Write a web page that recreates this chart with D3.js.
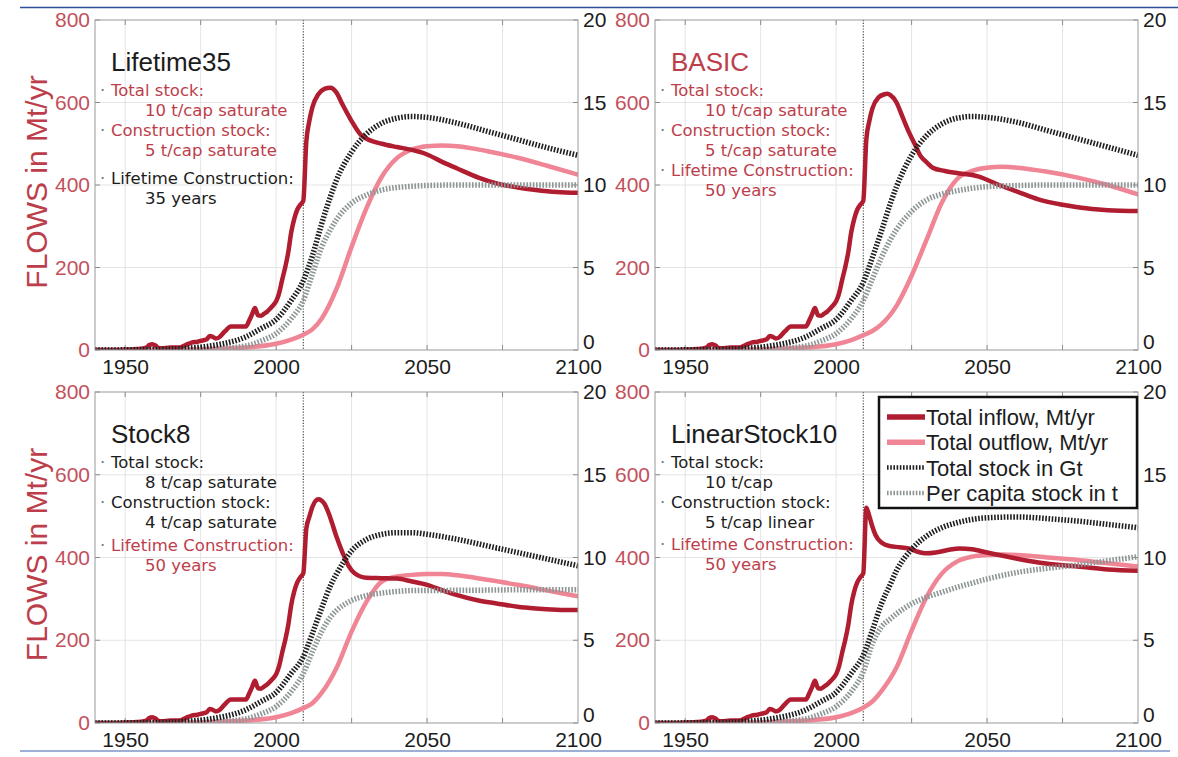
<!DOCTYPE html>
<html>
<head>
<meta charset="utf-8">
<script src="https://cdn.jsdelivr.net/npm/d3@7"></script>
<style>
  html, body { margin: 0; padding: 0; background: #fff; }
  svg { display: block; }
</style>
</head>
<body>
<svg id="chart" width="1178" height="757"></svg>
<script>
// ---------------------------------------------------------------
// Data
// ---------------------------------------------------------------
const scenarioNames = ["Lifetime35", "BASIC", "Stock8", "LinearStock10"];

// Historical inflow (Mt/yr), identical in every scenario
const histYears  = [1940,1945,1950,1953,1955,1957,1958,1959,1960,1961,1962,1965,1968,1970,1972,1974,1975,1977,1978,1979,1980,1981,1983,1985,1987,1990,1991,1992,1993,1994,1995,1996,1997,1998,1999,2000,2001,2002,2003,2004,2005,2006,2007,2008,2009];
const histInflow = [0,0,1,2,3,6,12,14,11,5,4,6,6,12,18,20,22,26,34,32,28,30,45,57,57,57,70,86,102,84,83,88,93,100,108,118,138,170,200,236,285,318,340,352,362];

// Projected inflow (Mt/yr) after 2009, [year, value]
const inflowLifetime35 = [[2010,505],[2011,555],[2012,588],[2014,620],[2016,633],[2018,636],[2020,624],[2022,595],[2025,555],[2028,522],[2030,512],[2035,500],[2040,492],[2045,485],[2050,474],[2055,456],[2060,440],[2067,418],[2073,404],[2080,394],[2086,388],[2093,383],[2100,381]];
const inflowBasic      = [[2010,510],[2011,555],[2012,585],[2014,612],[2016,620],[2017,621],[2018,618],[2020,600],[2022,565],[2024,530],[2026,500],[2028,470],[2030,455],[2032,442],[2036,434],[2040,429],[2047,421],[2054,400],[2060,384],[2067,365],[2075,352],[2080,346],[2090,339],[2100,337]];
const inflowStock8     = [[2010,470],[2011,498],[2012,522],[2014,541],[2016,530],[2018,495],[2020,450],[2022,412],[2024,380],[2026,362],[2030,351],[2035,350],[2040,349],[2045,342],[2050,334],[2055,321],[2060,309],[2067,296],[2073,289],[2080,281],[2086,277],[2093,274],[2100,273]];
const inflowLinear10   = [[2010,520],[2011,500],[2012,475],[2013,455],[2015,436],[2018,427],[2021,425],[2024,422],[2027,414],[2030,410],[2033,412],[2037,418],[2041,422],[2045,420],[2050,412],[2054,406],[2060,397],[2067,388],[2075,381],[2080,378],[2090,371],[2100,368]];

// Outflow (Mt/yr)
const outflowYears      = [1940,1970,1980,1990,2000,2005,2009,2012,2015,2020,2025,2030,2035,2040,2045,2050,2055,2060,2070,2080,2090,2100];
const outflowLifetime35 = [0,1,3,6,15,25,37,50,75,148,250,345,420,465,486,494,496,494,482,466,446,425];
const outflowBasic      = [0,1,3,6,14,24,36,46,62,107,180,268,357,414,434,442,444,442,432,418,400,377];
const outflowStock8     = [0,1,3,6,14,24,36,48,72,133,221,294,342,354,358,360,360,357,346,334,320,306];
const outflowLinear10   = [0,1,3,6,14,24,37,52,77,134,223,305,361,390,402,406,407,406,400,394,386,378];

// Total stock (Gt) and per capita stock (t)
const stockYears      = [1940,1960,1970,1980,1990,1995,2000,2005,2009,2012,2015,2018,2020,2025,2030,2035,2040,2045,2050,2060,2070,2080,2090,2100];
const stockLifetime35 = [0,0.03,0.1,0.3,0.8,1.3,1.85,3.0,4.2,5.7,7.6,9.3,10.3,12.0,13.1,13.75,14.05,14.15,14.1,13.75,13.25,12.75,12.25,11.8];
const stockBasic      = [0,0.03,0.1,0.3,0.8,1.3,1.85,3.0,4.1,5.6,7.2,8.9,9.9,11.8,13.0,13.7,14.05,14.15,14.1,13.8,13.3,12.8,12.3,11.8];
const stockStock8     = [0,0.03,0.1,0.3,0.8,1.3,1.85,3.0,4.0,5.4,6.9,8.3,9.0,10.4,11.1,11.4,11.5,11.5,11.4,11.1,10.7,10.3,9.9,9.5];
const stockLinear10   = [0,0.03,0.1,0.3,0.8,1.3,1.85,3.0,4.1,5.6,7.2,8.4,9.2,10.5,11.3,11.8,12.1,12.3,12.4,12.45,12.35,12.2,12.0,11.8];

const perCapitaLifetime35 = [0,0.01,0.03,0.08,0.25,0.55,1.0,1.9,3.0,4.6,6.2,7.3,7.9,8.9,9.4,9.7,9.85,9.92,9.97,10.0,10.0,10.0,10.0,10.0];
const perCapitaBasic      = [0,0.01,0.03,0.08,0.25,0.55,1.0,1.9,3.0,4.3,5.6,6.7,7.3,8.4,9.1,9.45,9.65,9.8,9.9,9.97,10.0,10.0,10.0,10.0];
const perCapitaStock8     = [0,0.01,0.03,0.08,0.25,0.55,1.0,1.9,3.0,4.3,5.5,6.4,6.8,7.4,7.7,7.85,7.95,8.0,8.0,8.02,8.03,8.05,8.05,8.05];
const perCapitaLinear10   = [0,0.01,0.03,0.08,0.25,0.55,1.0,1.9,3.1,4.8,5.8,6.3,6.6,7.2,7.6,7.9,8.2,8.45,8.7,9.1,9.35,9.55,9.8,10.05];

// Scenario parameter notes
const noteHeads  = ["Total stock:", "Construction stock:", "Lifetime Construction:"];
const noteValues = [
  ["10 t/cap saturate", "5 t/cap saturate", "35 years"],
  ["10 t/cap saturate", "5 t/cap saturate", "50 years"],
  ["8 t/cap saturate",  "4 t/cap saturate", "50 years"],
  ["10 t/cap",          "5 t/cap linear",   "50 years"]
];

// Axis ticks
const xLabelTicks  = [1950, 2000, 2050, 2100];
const xGridTicks   = [1950, 1975, 2000, 2025, 2050, 2075];
const flowTicks    = [0, 200, 400, 600, 800];
const stockTicks   = [0, 5, 10, 15, 20];
const historyEnd   = 2009;

const legendLabels = ["Total inflow, Mt/yr", "Total outflow, Mt/yr", "Total stock in Gt", "Per capita stock in t"];

// ---------------------------------------------------------------
// Assemble per-scenario series
// ---------------------------------------------------------------
const history = histYears.map((yr, i) => [yr, histInflow[i]]);
const pairs = (xs, vs) => xs.map((yr, i) => [yr, vs[i]]);

const series = [
  { inflow: history.concat(inflowLifetime35), outflow: pairs(outflowYears, outflowLifetime35), stock: pairs(stockYears, stockLifetime35), perCapita: pairs(stockYears, perCapitaLifetime35) },
  { inflow: history.concat(inflowBasic),      outflow: pairs(outflowYears, outflowBasic),      stock: pairs(stockYears, stockBasic),      perCapita: pairs(stockYears, perCapitaBasic) },
  { inflow: history.concat(inflowStock8),     outflow: pairs(outflowYears, outflowStock8),     stock: pairs(stockYears, stockStock8),     perCapita: pairs(stockYears, perCapitaStock8) },
  { inflow: history.concat(inflowLinear10),   outflow: pairs(outflowYears, outflowLinear10),   stock: pairs(stockYears, stockLinear10),   perCapita: pairs(stockYears, perCapitaLinear10) }
];

// ---------------------------------------------------------------
// Layout and styling
// ---------------------------------------------------------------
const panels = [
  { x0: 95,  x1: 578,  y0: 20,  y1: 350, yLabel: true },
  { x0: 655, x1: 1138, y0: 20,  y1: 350, yLabel: false },
  { x0: 95,  x1: 578,  y0: 392, y1: 723, yLabel: true },
  { x0: 655, x1: 1138, y0: 392, y1: 723, yLabel: false }
];
const noteGap = [8, 0, 3, 2];   // extra space before the lifetime note

const C = {
  inflow: "#b01c30",
  outflow: "#ef8595",
  stock: "#1e1e1e",
  perCapita: "#8d9595",
  red: "#bd3e4b",
  redTick: "#c4505b",
  text: "#1c1c1c",
  frame: "#9a9a9a",
  grid: "#e4e4e4"
};
const SANS = "'Liberation Sans', Arial, Helvetica, sans-serif";
const NOTE = "'DejaVu Sans', Verdana, sans-serif";

const svg = d3.select("#chart");

// Page rules
svg.append("line").attr("x1", 20).attr("x2", 1178).attr("y1", 7.5).attr("y2", 7.5)
  .attr("stroke", "#2e4f9c").attr("stroke-width", 1.6);
svg.append("line").attr("x1", 20).attr("x2", 1170).attr("y1", 751).attr("y2", 751)
  .attr("stroke", "#7d95c6").attr("stroke-width", 1.6);

const defs = svg.append("defs");

panels.forEach((p, k) => {
  const s = series[k];
  const x  = d3.scaleLinear().domain([1940, 2100]).range([p.x0, p.x1]);
  const yL = d3.scaleLinear().domain([0, 800]).range([p.y1, p.y0]);
  const yR = d3.scaleLinear().domain([0, 20]).range([p.y1, p.y0]);

  const g = svg.append("g");

  // grid
  g.append("g").selectAll("line").data(xGridTicks).join("line")
    .attr("x1", d => x(d)).attr("x2", d => x(d))
    .attr("y1", p.y0).attr("y2", p.y1)
    .attr("stroke", C.grid).attr("stroke-width", 1);
  g.append("g").selectAll("line").data(flowTicks.slice(1, -1)).join("line")
    .attr("x1", p.x0).attr("x2", p.x1)
    .attr("y1", d => yL(d)).attr("y2", d => yL(d))
    .attr("stroke", C.grid).attr("stroke-width", 1);

  // inner tick marks
  const tk = g.append("g").attr("stroke", "#8a8a8a").attr("stroke-width", 1);
  xGridTicks.forEach(t => {
    tk.append("line").attr("x1", x(t)).attr("x2", x(t)).attr("y1", p.y1).attr("y2", p.y1 - 5);
    tk.append("line").attr("x1", x(t)).attr("x2", x(t)).attr("y1", p.y0).attr("y2", p.y0 + 5);
  });
  flowTicks.forEach(t => {
    tk.append("line").attr("x1", p.x0).attr("x2", p.x0 + 5).attr("y1", yL(t)).attr("y2", yL(t));
    tk.append("line").attr("x1", p.x1).attr("x2", p.x1 - 5).attr("y1", yL(t)).attr("y2", yL(t));
  });

  // history/projection divider
  g.append("line")
    .attr("x1", x(historyEnd)).attr("x2", x(historyEnd))
    .attr("y1", p.y0).attr("y2", p.y1)
    .attr("stroke", "#3a3a3a").attr("stroke-width", 1.1)
    .attr("stroke-dasharray", "1.2,1.6");

  // clipped data area
  const clipId = "clip" + k;
  defs.append("clipPath").attr("id", clipId).append("rect")
    .attr("x", p.x0).attr("y", p.y0 - 4).attr("width", p.x1 - p.x0).attr("height", p.y1 - p.y0 + 4);
  const area = g.append("g").attr("clip-path", `url(#${clipId})`);

  const flowLine  = d3.line().x(d => x(d[0])).y(d => yL(d[1])).curve(d3.curveMonotoneX);
  const stockLine = d3.line().x(d => x(d[0])).y(d => yR(d[1])).curve(d3.curveMonotoneX);

  area.append("path").datum(s.outflow).attr("d", flowLine)
    .attr("fill", "none").attr("stroke", C.outflow).attr("stroke-width", 4.5)
    .attr("stroke-linejoin", "round").attr("stroke-linecap", "round");
  area.append("path").datum(s.inflow).attr("d", flowLine)
    .attr("fill", "none").attr("stroke", C.inflow).attr("stroke-width", 4.5)
    .attr("stroke-linejoin", "round").attr("stroke-linecap", "round");
  area.append("path").datum(s.perCapita).attr("d", stockLine)
    .attr("fill", "none").attr("stroke", C.perCapita).attr("stroke-width", 5.5)
    .attr("stroke-dasharray", "1.6,1.6");
  area.append("path").datum(s.stock).attr("d", stockLine)
    .attr("fill", "none").attr("stroke", C.stock).attr("stroke-width", 5.5)
    .attr("stroke-dasharray", "1.6,1.6");

  // frame
  g.append("rect").attr("x", p.x0).attr("y", p.y0)
    .attr("width", p.x1 - p.x0).attr("height", p.y1 - p.y0)
    .attr("fill", "none").attr("stroke", C.frame).attr("stroke-width", 1);

  // axes
  const axB = g.append("g").attr("transform", `translate(0,${p.y1})`)
    .call(d3.axisBottom(x).tickValues(xLabelTicks).tickFormat(d3.format("d")).tickSize(0).tickPadding(9));
  const axL = g.append("g").attr("transform", `translate(${p.x0},0)`)
    .call(d3.axisLeft(yL).tickValues(flowTicks).tickFormat(d3.format("d")).tickSize(0).tickPadding(5));
  const axR = g.append("g").attr("transform", `translate(${p.x1},0)`)
    .call(d3.axisRight(yR).tickValues(stockTicks).tickFormat(d3.format("d")).tickSize(0).tickPadding(5));
  [axB, axL, axR].forEach(a => {
    a.select(".domain").remove();
    a.selectAll("text").attr("font-family", SANS).attr("font-size", 21).attr("fill", C.text);
  });
  axL.selectAll("text").attr("fill", C.redTick);
  // the right-hand zero sits just above the last year label
  axR.selectAll(".tick").filter(d => d === 0).select("text").attr("dy", "-0.05em");

  // y-axis title
  if (p.yLabel) {
    g.append("text")
      .attr("transform", `translate(${p.x0 - 48},${(p.y0 + p.y1) / 2 - 3}) rotate(-90)`)
      .attr("text-anchor", "middle")
      .attr("font-family", SANS).attr("font-size", 30)
      .attr("fill", C.red)
      .text("FLOWS in Mt/yr");
  }

  // scenario title
  const isBase = scenarioNames[k] === "BASIC";
  g.append("text")
    .attr("x", p.x0 + 16).attr("y", p.y0 + 51)
    .attr("font-family", SANS).attr("font-size", 26)
    .attr("fill", isBase ? C.red : C.text)
    .text(scenarioNames[k]);

  // parameter notes: red where the setting equals the BASIC run
  const baseIdx = scenarioNames.indexOf("BASIC");
  let yy = p.y0 + 76;
  noteHeads.forEach((head, j) => {
    if (j === 2) yy += noteGap[k];
    const same = noteValues[k][j] === noteValues[baseIdx][j];
    const col = same ? C.red : C.text;
    g.append("text").attr("x", p.x0 + 5).attr("y", yy)
      .attr("font-family", NOTE).attr("font-size", 16.5).attr("fill", "#777")
      .text("·");
    g.append("text").attr("x", p.x0 + 16).attr("y", yy)
      .attr("font-family", NOTE).attr("font-size", 16.5).attr("fill", col)
      .text(head);
    g.append("text").attr("x", p.x0 + 50).attr("y", yy + 20)
      .attr("font-family", NOTE).attr("font-size", 16.5).attr("fill", col)
      .text(noteValues[k][j]);
    yy += 40;
  });
});

// ---------------------------------------------------------------
// Legend (bottom-right panel)
// ---------------------------------------------------------------
const lg = svg.append("g");
lg.append("rect").attr("x", 879).attr("y", 397).attr("width", 258).attr("height", 111)
  .attr("fill", "#fff").attr("stroke", "#111").attr("stroke-width", 2.5);
const legendStyles = [
  { stroke: C.inflow,    width: 5.5, dash: null },
  { stroke: C.outflow,   width: 5.5, dash: null },
  { stroke: C.stock,     width: 4.5, dash: "1.6,1.6" },
  { stroke: C.perCapita, width: 4.5, dash: "1.6,1.6" }
];
legendLabels.forEach((lab, i) => {
  const yy = 417 + i * 25.3;
  lg.append("line").attr("x1", 887).attr("x2", 925).attr("y1", yy).attr("y2", yy)
    .attr("stroke", legendStyles[i].stroke).attr("stroke-width", legendStyles[i].width)
    .attr("stroke-dasharray", legendStyles[i].dash);
  lg.append("text").attr("x", 926).attr("y", yy + 8)
    .attr("font-family", SANS).attr("font-size", 22).attr("fill", C.text)
    .text(lab);
});
</script>
</body>
</html>
